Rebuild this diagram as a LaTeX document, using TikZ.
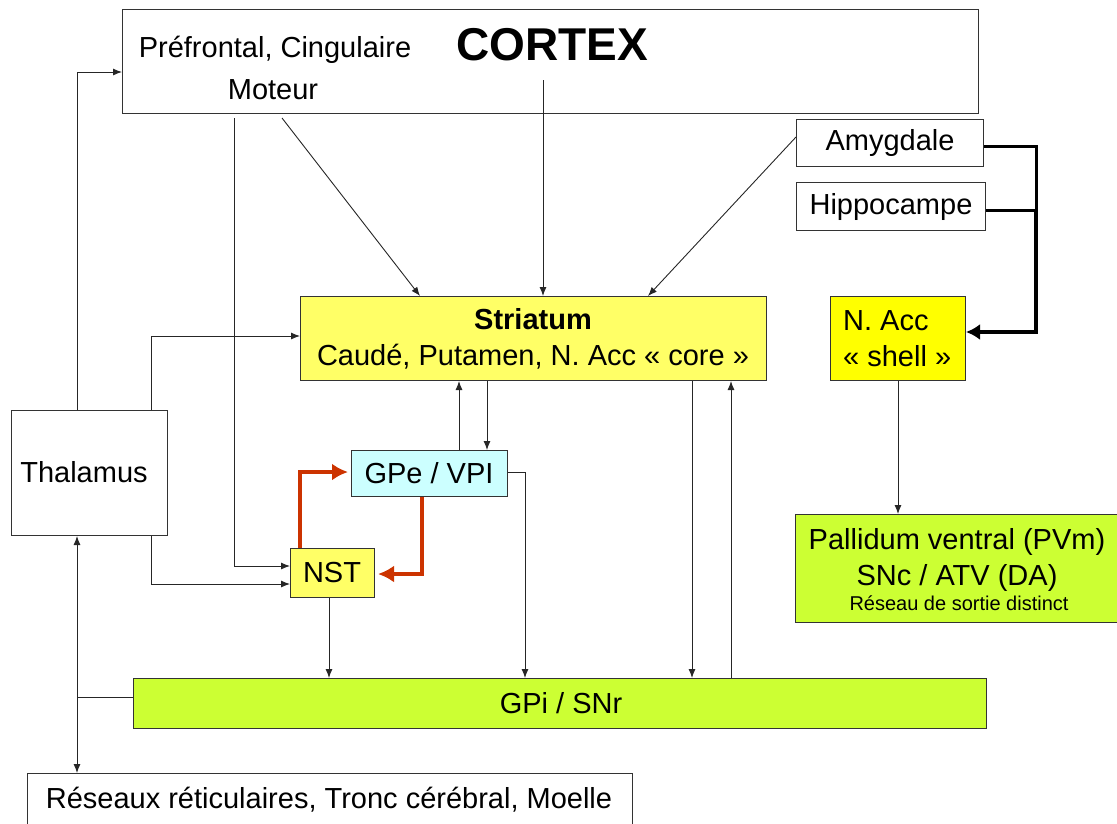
\documentclass[tikz,border=0pt]{standalone}
\usepackage{fontspec}
\setmainfont{Liberation Sans}
\usetikzlibrary{arrows.meta}
\definecolor{lyellow}{HTML}{FFFF66}
\definecolor{syellow}{HTML}{FFFF00}
\definecolor{lcyan}{HTML}{CCFFFF}
\definecolor{lgreen}{HTML}{CCFF33}
\definecolor{myred}{HTML}{CC3300}
\definecolor{edge}{HTML}{333333}
\begin{document}
\begin{tikzpicture}[x=1pt,y=-1pt,
  box/.style={draw=edge, line width=1pt, inner sep=0pt, anchor=north west},
  txt/.style={inner sep=0pt, font=\fontsize{29}{36}\selectfont, align=center},
  arr/.style={-{Latex[length=9pt,width=7pt]}, line width=0.9pt, draw=black!85},
  plain/.style={line width=0.9pt, draw=black!85},
  thk/.style={line width=3pt, draw=black},
  thkarr/.style={line width=3.5pt, draw=black, -{Latex[length=14pt,width=16pt]}},
  redarr/.style={line width=3.5pt, draw=myred, shorten >=3pt, -{Latex[length=16pt,width=17pt]}}]
\useasboundingbox (0,0) rectangle (1117,823);
% boxes
\node[box, minimum width=856pt, minimum height=104pt] (cortex) at (122,9) {};
\node[txt] (pf) at (275,50) {Préfrontal, Cingulaire};
\node[txt] (mot) at (273,90) {Moteur};
\node[txt, font=\fontsize{46}{50}\selectfont\bfseries] (ctx) at (552,45) {CORTEX};
\node[box, minimum width=187pt, minimum height=47pt] (amy) at (796,119) {};
\node[txt] at (amy.center) {Amygdale};
\node[box, minimum width=189pt, minimum height=48pt] (hip) at (796,182) {};
\node[txt] at (hip.center) {Hippocampe};
\node[box, fill=lyellow, minimum width=466pt, minimum height=84pt] (str) at (300,296) {};
\node[txt] (strt) at (533,339) {\textbf{Striatum}\\Caudé, Putamen, N. Acc « core »};
\node[box, fill=syellow, minimum width=135pt, minimum height=84pt] (shell) at (830,296) {};
\node[txt, align=left, anchor=west] (shellt) at (843,339) {N. Acc\\« shell »};
\node[box, minimum width=156pt, minimum height=125pt] (thal) at (11,410) {};
\node[txt] at (84,472) {Thalamus};
\node[box, fill=lcyan, minimum width=156pt, minimum height=46pt] (gpe) at (351,450) {};
\node[txt] at (429,473) {GPe / VPI};
\node[box, fill=lyellow, minimum width=84pt, minimum height=49pt] (nst) at (290,548) {};
\node[txt] at (332,573) {NST};
\node[box, fill=lgreen, minimum width=330pt, minimum height=108pt] (pal) at (795,514) {};
\node[txt] (palt) at (957,560) {Pallidum ventral (PVm)\\SNc / ATV (DA)};
\node[txt, font=\fontsize{20}{22}\selectfont] at (959,603) {Réseau de sortie distinct};
\node[box, fill=lgreen, minimum width=853pt, minimum height=50pt] (gpi) at (133,678) {};
\node[txt] at (561,703) {GPi / SNr};
\node[box, minimum width=605pt, minimum height=60pt] (res) at (27,773) {};
\node[txt] at (329,800) {Réseaux réticulaires, Tronc cérébral, Moelle};
% free-end coordinates
\coordinate (cxin) at (543,80);
\coordinate (mo1) at (282,118);
\coordinate (mo2) at (234,118);
\coordinate (jn) at (1036,210);
% connectors
\draw[arr] (thal.north -| 77,0) |- (cortex.west |- 0,72);
\draw[arr] (thal.north -| 151,0) |- (str.west |- 0,336);
\draw[arr] (mo2) |- (nst.west |- 0,566);
\draw[arr] (thal.south -| 151,0) |- (nst.west |- 0,584);
\draw[arr] (mo1) -- (str.north -| 420,0);
\draw[arr] (cxin) -- (str.north -| 543,0);
\draw[arr] (amy.west |- 0,137) -- (str.north -| 648,0);
\draw[thk] (amy.east |- 0,146) -| (jn);
\draw[thk] (hip.east |- 0,210) -- (jn);
\draw[thkarr] (jn) |- (shell.east |- 0,332);
\draw[arr] (gpe.north -| 459,0) -- (str.south -| 459,0);
\draw[arr] (str.south -| 487,0) -- (gpe.north -| 487,0);
\draw[redarr] (nst.north -| 300,0) |- (gpe.west |- 0,472);
\draw[redarr] (gpe.south -| 422,6) |- (nst.east |- 0,574);
\draw[arr] (gpe.east |- 0,472) -| (gpi.north -| 525,0);
\draw[arr] (nst.south -| 329,0) -- (gpi.north -| 329,0);
\draw[arr] (str.south -| 692,0) -- (gpi.north -| 692,0);
\draw[arr] (gpi.north -| 731,0) -- (str.south -| 731,0);
\draw[arr] (shell.south -| 898,0) -- (pal.north -| 898,0);
\draw[plain] (gpi.west |- 0,697) -- (77,697);
\draw[arr, {Latex[length=9pt,width=7pt]}-{Latex[length=9pt,width=7pt]}] (thal.south -| 77,0) -- (res.north -| 77,0);
\end{tikzpicture}
\end{document}
